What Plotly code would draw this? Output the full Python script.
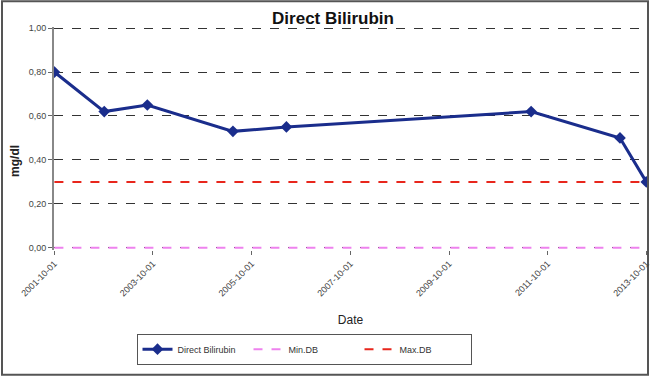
import plotly.graph_objects as go

# Data
dates = ["2001-10-01", "2002-10-05", "2003-08-20", "2005-05-15", "2006-06-15",
         "2011-06-01", "2013-03-20", "2013-10-01"]
bilirubin = [0.80, 0.62, 0.65, 0.53, 0.55, 0.62, 0.50, 0.30]
limit_dates = ["2001-10-01", "2013-10-01"]
min_db = [0.0, 0.0]
max_db = [0.30, 0.30]
x_ticks = ["2001-10-01", "2003-10-01", "2005-10-01", "2007-10-01",
           "2009-10-01", "2011-10-01", "2013-10-01"]
y_ticks = [0.0, 0.2, 0.4, 0.6, 0.8, 1.0]

FONT = "Liberation Sans, Arial, sans-serif"

fig = go.Figure()
fig.add_trace(go.Scatter(
    x=limit_dates, y=min_db, name="Min.DB", mode="lines", legendrank=2,
    line=dict(color="#ee82ee", width=2, dash="dash")))
fig.add_trace(go.Scatter(
    x=limit_dates, y=max_db, name="Max.DB", mode="lines", legendrank=3,
    line=dict(color="#e8261c", width=2, dash="dash")))
fig.add_trace(go.Scatter(
    x=dates, y=bilirubin, name="Direct Bilirubin", mode="lines+markers",
    legendrank=1,
    line=dict(color="#1a2d8c", width=3),
    marker=dict(symbol="diamond", size=9, color="#1a2d8c")))

W, H = 650, 378
y_lo, y_hi = -0.01, 1.005
L, R, T = 54, 3, 28 - 220 * (y_hi - 1)
ph = 220 * (y_hi - y_lo)
B = H - T - ph
pw = W - L - R

def py(pix):
    # pixel row -> paper y
    return (T + ph - pix) / ph

def px(pix):
    return (pix - L) / pw

fig.update_layout(
    width=W, height=H,
    margin=dict(l=L, r=R, t=T, b=B, autoexpand=False),
    paper_bgcolor="white", plot_bgcolor="white",
    separators=", ",
    font=dict(family=FONT, size=9, color="#333"),
    title=dict(text="<b>Direct Bilirubin</b>", x=333 / W, xanchor="center",
               y=1 - 18 / H, yanchor="middle",
               font=dict(family=FONT, size=17, color="#111")),
    showlegend=True,
    legend=dict(orientation="h", x=px(304), xanchor="center",
                y=py(334), yanchor="top",
                bordercolor="#555", borderwidth=1,
                entrywidth=66, entrywidthmode="pixels",
                font=dict(family=FONT, size=9, color="#333")),
    xaxis=dict(
        type="date", range=["2001-09-28", "2013-10-06"],
        tickvals=x_ticks, ticktext=x_ticks, tickangle=-45,
        ticklabeloverflow="allow",
        showgrid=False, zeroline=False, showline=False,
        ticks="outside", ticklen=4, tickcolor="#666",
        tickfont=dict(family=FONT, size=9, color="#444"),
        title=dict(text="Date", standoff=18,
                   font=dict(family=FONT, size=12, color="#222"))),
    yaxis=dict(
        range=[y_lo, y_hi], tickvals=y_ticks, tickformat=".2f",
        showgrid=True, gridcolor="#333", griddash="dash", gridwidth=1,
        zeroline=False, showline=True, linecolor="#888", linewidth=2,
        ticks="outside", ticklen=4, tickcolor="#666",
        tickfont=dict(family=FONT, size=9, color="#444")),
    annotations=[dict(text="<b>mg/dl</b>", xref="paper", yref="paper",
                      x=px(15), y=py(161), textangle=-90, showarrow=False,
                      xanchor="center", yanchor="middle",
                      font=dict(family=FONT, size=12, color="#222"))],
    shapes=[dict(type="rect", xref="paper", yref="paper",
                 x0=px(2), x1=px(648),
                 y0=py(375), y1=py(1),
                 line=dict(color="#555", width=2), layer="below")],
)

fig.write_html("out.html", config={"displayModeBar": False},
               post_script="document.body.style.margin='0';")
